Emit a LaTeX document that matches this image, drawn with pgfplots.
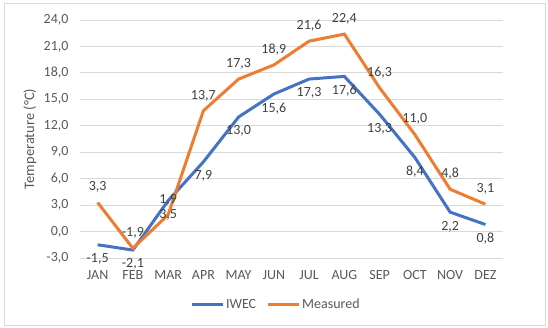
\documentclass[border=0pt]{standalone}
\usepackage{pgfplots}
\pgfplotsset{compat=1.18}
\usepackage{fontspec}
\setmainfont{Carlito}
\definecolor{iwec}{HTML}{4472C4}
\definecolor{meas}{HTML}{ED7D31}
\definecolor{gridc}{HTML}{D9D9D9}
\definecolor{txt}{HTML}{595959}
\begin{document}
\begin{tikzpicture}[x=1pt,y=1pt]
\useasboundingbox (0,0) rectangle (548,328);
\draw[gridc, line width=0.8pt] (4,3) rectangle (545,325);
\begin{axis}[
  at={(80pt,70pt)}, anchor=south west,
  scale only axis, width=423pt, height=238pt,
  xmin=-0.5, xmax=11.5, ymin=-3, ymax=24,
  xtick={0,...,11},
  xticklabels={JAN,FEB,MAR,APR,MAY,JUN,JUL,AUG,SEP,OCT,NOV,DEZ},
  ytick={-3,0,...,24},
  ymajorgrids, grid style={gridc, line width=0.8pt},
  axis line style={draw=none},
  major tick length=0pt,
  tick label style={font=\fontsize{14}{16}\selectfont, text=txt},
  /pgf/number format/assume math mode=true,
  yticklabel={\pgfmathprintnumber[fixed,fixed zerofill,precision=1,use comma]{\tick}},
  yticklabel style={xshift=-8pt},
  xticklabel style={yshift=-9pt},
  ylabel={Temperature (°C)},
  ylabel style={at={(axis description cs:-0.118,0.5)}, anchor=center, font=\fontsize{14.5}{16}\selectfont, text=txt},
  legend style={at={(0.463,-0.197)}, anchor=center, draw=none, legend columns=2,
    font=\fontsize{14}{16}\selectfont, text=txt,
    /tikz/every even column/.append style={column sep=8pt}},
  legend image code/.code={\draw[#1, line width=3pt] (0pt,0pt) -- (31pt,0pt);},
  nodes near coords={\pgfmathprintnumber[fixed,fixed zerofill,precision=1,use comma]{\pgfplotspointmeta}},
  every node near coord/.append style={font=\fontsize{14}{16}\selectfont, text=black!75},
  point meta=y,
]
\addplot[color=iwec, line width=3pt, mark=none,
  every node near coord/.append style={anchor=north, yshift=-4pt}]
  coordinates {(0,-1.5) (1,-2.1) (2,3.5) (3,7.9) (4,13.0) (5,15.6) (6,17.3) (7,17.6) (8,13.3) (9,8.4) (10,2.2) (11,0.8)};
\addlegendentry{IWEC}
\addplot[color=meas, line width=3pt, mark=none,
  every node near coord/.append style={anchor=south, yshift=5pt}]
  coordinates {(0,3.3) (1,-1.9) (2,1.9) (3,13.7) (4,17.3) (5,18.9) (6,21.6) (7,22.4) (8,16.3) (9,11.0) (10,4.8) (11,3.1)};
\addlegendentry{Measured}
\end{axis}
\end{tikzpicture}
\end{document}
